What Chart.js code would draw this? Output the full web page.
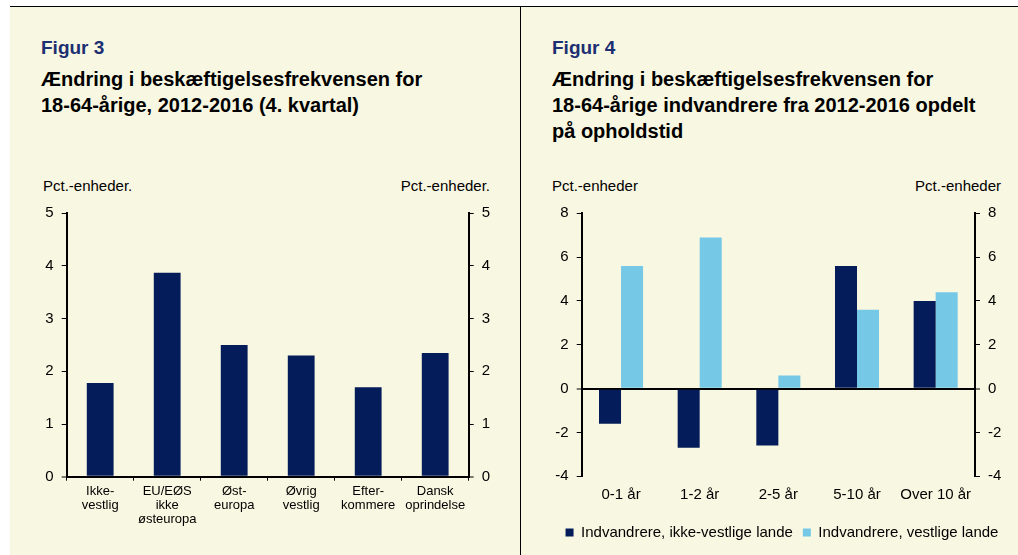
<!DOCTYPE html>
<html>
<head>
<meta charset="utf-8">
<script src="https://cdn.jsdelivr.net/npm/chart.js@4.4.0/dist/chart.umd.min.js"></script>
<style>
  body { margin: 0; width: 1018px; height: 555px; background: #fff; position: relative; overflow: hidden; font-family: "Liberation Sans", Arial, sans-serif; }
  #panel { position: absolute; left: 10px; top: 6px; right: 0; bottom: 0; background: #f8f7e1; border-top: 1px solid #000; }
  #divider { position: absolute; left: 520px; top: 6px; bottom: 0; width: 1px; background: #000; }
  .fig { position: absolute; font-size: 19px; line-height: 22px; font-weight: bold; color: #1c2f72; }
  .title { position: absolute; font-size: 20px; line-height: 26px; font-weight: bold; color: #000; }
  .unit { position: absolute; font-size: 15px; line-height: 18px; color: #000; white-space: nowrap; }
  canvas { position: absolute; }
</style>
</head>
<body>
<div id="panel"></div>
<div id="divider"></div>

<div class="fig" style="left:41px; top:37px;">Figur 3</div>
<div class="title" style="left:41px; top:66px;">Ændring i beskæftigelsesfrekvensen for<br>18-64-årige, 2012-2016 (4. kvartal)</div>
<div class="unit" style="left:43px; top:177px;">Pct.-enheder.</div>
<div class="unit" style="right:528px; top:177px;">Pct.-enheder.</div>

<div class="fig" style="left:552px; top:37px;">Figur 4</div>
<div class="title" style="left:552px; top:66px;">Ændring i beskæftigelsesfrekvensen for<br>18-64-årige indvandrere fra 2012-2016 opdelt<br>på opholdstid</div>
<div class="unit" style="left:552px; top:177px;">Pct.-enheder</div>
<div class="unit" style="right:17px; top:177px;">Pct.-enheder</div>

<div style="position:absolute; left:0; top:195px; width:520px; height:360px;"><canvas id="chart3"></canvas></div>
<div style="position:absolute; left:520px; top:195px; width:498px; height:360px;"><canvas id="chart4"></canvas></div>

<script>
const grupper = [["Ikke-", "vestlig"], ["EU/EØS", "ikke", "østeuropa"], ["Øst-", "europa"], ["Øvrig", "vestlig"], ["Efter-", "kommere"], ["Dansk", "oprindelse"]];
const aendring = [1.78, 3.87, 2.5, 2.3, 1.7, 2.35];
const ticks3 = [0, 1, 2, 3, 4, 5];

const ophold = ["0-1 år", "1-2 år", "2-5 år", "5-10 år", "Over 10 år"];
const ikkeVestlige = [-1.6, -2.7, -2.6, 5.6, 4.0];
const vestlige = [5.6, 6.9, 0.6, 3.6, 4.4];
const ticks4 = [-4, -2, 0, 2, 4, 6, 8];

const navy = "#041c5a";
const lyseblaa = "#76c8e7";
const font = "'Liberation Sans', Arial, sans-serif";

Chart.defaults.font.family = font;
Chart.defaults.color = "#000";
Chart.defaults.animation = false;

function yAxis(pos, min, max, vals, width, nulLinje) {
    return {
        position: pos,
        min, max,
        afterBuildTicks: (s) => { s.ticks = vals.map(v => ({ value: v })); },
        afterFit: (s) => { s.width = width; },
        border: { color: "#000", width: 2 },
        grid: {
            drawOnChartArea: !!nulLinje,
            color: (c) => (c.tick && c.tick.value === 0 ? "#000" : "rgba(0,0,0,0)"),
            lineWidth: (c) => (c.tick && c.tick.value === 0 ? 2 : 1),
            tickColor: "#000",
            tickWidth: 1,
            tickLength: 5
        },
        ticks: { font: { size: 15 }, padding: 8 }
    };
}

new Chart(document.getElementById("chart3"), {
    type: "bar",
    data: {
        labels: grupper,
        datasets: [{ data: aendring, backgroundColor: navy, barPercentage: 0.4, categoryPercentage: 1 }]
    },
    options: {
        responsive: true,
        maintainAspectRatio: false,
        layout: { padding: { top: 18.3, left: 0, right: 0, bottom: 0 } },
        plugins: { legend: { display: false }, tooltip: { enabled: false } },
        scales: {
            x: {
                afterFit: (s) => { s.height = 78.3; },
                border: { color: "#000", width: 2 },
                grid: { drawOnChartArea: false, color: "#000", tickLength: 4, offset: true },
                ticks: { font: { size: 13, lineHeight: 1.08 }, padding: 4, maxRotation: 0, autoSkip: false }
            },
            y: yAxis("left", 0, 5, ticks3, 66.7, false),
            y2: yAxis("right", 0, 5, ticks3, 51.3, false)
        }
    }
});

new Chart(document.getElementById("chart4"), {
    type: "bar",
    data: {
        labels: ophold,
        datasets: [
            { label: "Indvandrere, ikke-vestlige lande", data: ikkeVestlige, backgroundColor: navy, barPercentage: 1, categoryPercentage: 0.56 },
            { label: "Indvandrere, vestlige lande", data: vestlige, backgroundColor: lyseblaa, barPercentage: 1, categoryPercentage: 0.56 }
        ]
    },
    options: {
        responsive: true,
        maintainAspectRatio: false,
        layout: { padding: { top: 18.3, left: 26, right: 0, bottom: 5 } },
        plugins: {
            tooltip: { enabled: false },
            legend: {
                position: "bottom",
                labels: { boxWidth: 8, boxHeight: 8, padding: 10, font: { size: 15 }, color: "#000" }
            }
        },
        scales: {
            x: {
                afterFit: (s) => { s.height = 38.7; },
                border: { display: false },
                grid: { drawOnChartArea: false, drawTicks: false },
                ticks: { font: { size: 15 }, padding: 10, maxRotation: 0, autoSkip: false }
            },
            y: yAxis("left", -4, 8, ticks4, 35.7, true),
            y2: yAxis("right", -4, 8, ticks4, 43, false)
        }
    }
});
</script>
</body>
</html>
